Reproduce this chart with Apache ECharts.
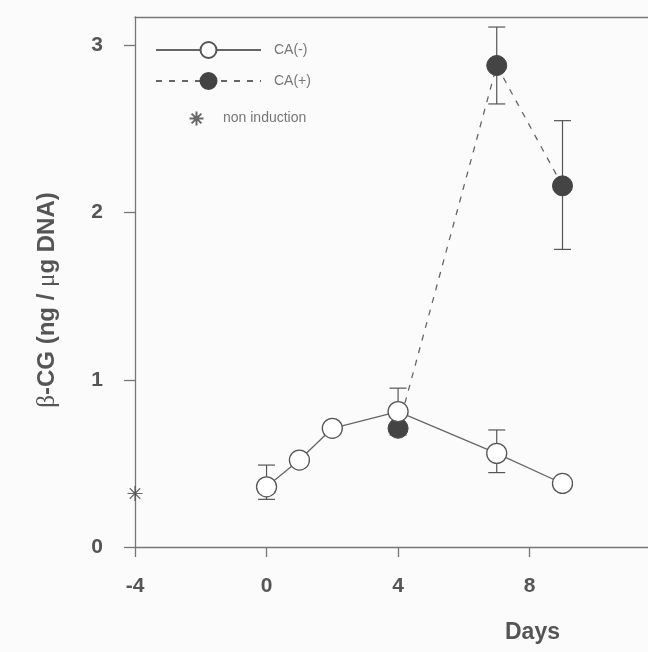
<!DOCTYPE html>
<html>
<head>
<meta charset="utf-8">
<script src="https://cdn.jsdelivr.net/npm/echarts@6/dist/echarts.min.js"></script>
<style>
html,body{margin:0;padding:0;background:#fcfbfb;}
#c{width:648px;height:652px;}
</style>
</head>
<body>
<div id="c"></div>
<script>
// ---- data ----
const days = [0, 1, 2, 4, 7, 9];
const caMinus = [0.36, 0.52, 0.71, 0.81, 0.56, 0.38];
const caPlusDays = [4, 7, 9];
const caPlus = [0.71, 2.88, 2.16];
const nonInductionDay = [-4];
const nonInduction = [0.32];
// error bars: [day, low, high]
const errDays = [0, 4, 7, 7, 9];
const errLow = [0.285, 0.67, 0.445, 2.65, 1.78];
const errHigh = [0.49, 0.95, 0.70, 3.11, 2.55];
const xTicks = [-4, 0, 4, 8];
const yTicks = [0, 1, 2, 3];

const axisColor = '#777';
const textColor = '#555';

const errData = errDays.map((d, i) => [d, errLow[i], errHigh[i]]);

const chart = echarts.init(document.getElementById('c'), null, {renderer: 'canvas'});
chart.setOption({
  backgroundColor: '#fcfbfb',
  animation: false,
  grid: {left: 135, right: 0, top: 17, bottom: 105},
  xAxis: [{
    type: 'value', min: -4, max: 11.6, interval: 4,
    name: 'Days', nameLocation: 'middle', nameGap: 74,
    nameTextStyle: {fontFamily: 'Liberation Sans', fontWeight: 'bold', fontSize: 23, color: textColor, padding: [0, 0, 0, 282]},
    axisLine: {onZero: false, lineStyle: {color: axisColor, width: 1.3}},
    axisTick: {show: true, length: 10, inside: false, customValues: xTicks, lineStyle: {color: axisColor, width: 1.3}},
    axisLabel: {customValues: xTicks, margin: 29, fontFamily: 'Liberation Sans', fontWeight: 'bold', fontSize: 21, color: textColor},
    splitLine: {show: false}
  }, {
    type: 'value', position: 'top', min: -4, max: 11.6,
    axisLine: {show: true, onZero: false, lineStyle: {color: axisColor, width: 1.3}},
    axisTick: {show: false}, axisLabel: {show: false}, splitLine: {show: false}
  }],
  yAxis: {
    type: 'value', min: 0, max: 3.17, interval: 1,
    name: '{g|β}-CG (ng / {g|μ}g DNA)', nameLocation: 'middle', nameRotate: 90, nameGap: 75,
    nameTextStyle: {fontFamily: 'Liberation Sans', fontWeight: 'bold', fontSize: 24, color: textColor, padding: [0, 36, 0, 0],
      rich: {g: {fontFamily: 'Liberation Serif', fontWeight: 'normal', fontSize: 25, color: textColor}}},
    axisLine: {show: true, onZero: false, lineStyle: {color: axisColor, width: 1.3}},
    axisTick: {show: true, length: 11, customValues: yTicks, lineStyle: {color: axisColor, width: 1.3}},
    axisLabel: {customValues: yTicks, margin: 32, fontFamily: 'Liberation Sans', fontWeight: 'bold', fontSize: 21, color: textColor},
    splitLine: {show: false}
  },
  legend: [{
    left: 150, top: 36, orient: 'vertical', itemGap: 13,
    itemWidth: 105, itemHeight: 20,
    data: ['CA(-)', 'CA(+)'],
    textStyle: {fontFamily: 'Liberation Sans', fontSize: 14, color: '#777', padding: [0, 0, 0, 8]}
  }, {
    left: 182, top: 104, orient: 'vertical',
    itemWidth: 43, itemHeight: 14,
    data: ['non induction'],
    textStyle: {fontFamily: 'Liberation Sans', fontSize: 14, color: '#777'}
  }],
  series: [{
    type: 'custom', name: 'err', z: 1,
    data: errData,
    encode: {x: 0, y: [1, 2]},
    renderItem: function (params, api) {
      const x = api.value(0), lo = api.value(1), hi = api.value(2);
      const pLo = api.coord([x, lo]), pHi = api.coord([x, hi]);
      const w = 8.5;
      const st = {stroke: '#555', lineWidth: 1.2};
      return {type: 'group', children: [
        {type: 'line', shape: {x1: pLo[0], y1: pLo[1], x2: pHi[0], y2: pHi[1]}, style: st},
        {type: 'line', shape: {x1: pLo[0] - w, y1: pLo[1], x2: pLo[0] + w, y2: pLo[1]}, style: st},
        {type: 'line', shape: {x1: pHi[0] - w, y1: pHi[1], x2: pHi[0] + w, y2: pHi[1]}, style: st}
      ]};
    }
  }, {
    type: 'line', name: 'CA(+)', z: 2,
    data: caPlusDays.map((d, i) => [d, caPlus[i]]),
    symbol: 'circle', symbolSize: 20,
    lineStyle: {color: '#666', width: 1.3, type: [6, 7]},
    itemStyle: {color: '#444', borderColor: '#444', borderWidth: 1}
  }, {
    type: 'line', name: 'CA(-)', z: 3,
    data: days.map((d, i) => [d, caMinus[i]]),
    symbol: 'circle', symbolSize: 20,
    lineStyle: {color: '#666', width: 1.3},
    itemStyle: {color: '#fff', borderColor: '#555', borderWidth: 1.3}
  }, {
    type: 'scatter', name: 'non induction', z: 3,
    data: nonInductionDay.map((d, i) => [d, nonInduction[i]]),
    symbol: 'path://M0,-10L0,10M-10,0L10,0M-7,-7L7,7M-7,7L7,-7', symbolSize: 15,
    itemStyle: {color: 'none', borderColor: '#444', borderWidth: 1.2}
  }]
});
</script>
</body>
</html>
